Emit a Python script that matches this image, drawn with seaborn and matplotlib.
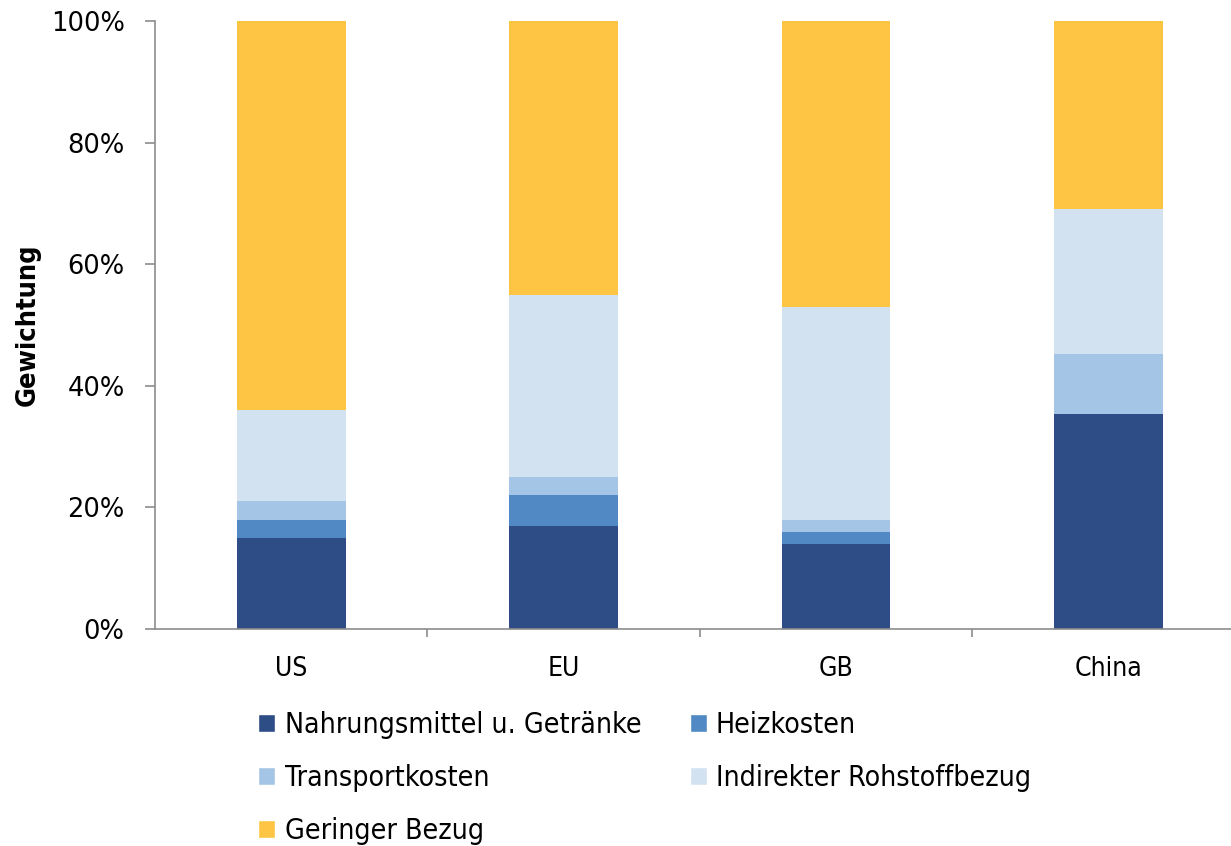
import numpy as np
import pandas as pd
import matplotlib
matplotlib.use("Agg")
import matplotlib.pyplot as plt
from matplotlib.patches import Patch
from matplotlib.ticker import FuncFormatter
import seaborn as sns

# values (percent)
regions = ["US", "EU", "GB", "China"]
nahrung = [15.0, 17.0, 14.0, 35.4]
heiz = [3.0, 5.0, 2.0, 0.0]
transport = [3.0, 3.0, 2.0, 9.8]
indirekt = [15.0, 30.0, 35.0, 23.9]
gering = [64.0, 45.0, 47.0, 30.9]

labels = ["Nahrungsmittel u. Getränke", "Heizkosten", "Transportkosten",
          "Indirekter Rohstoffbezug", "Geringer Bezug"]
colors = ["#2E4D87", "#5089C4", "#A5C5E6", "#D3E2F1", "#FDC543"]

sns.set_style("white")
plt.rcParams["font.family"] = ["DejaVu Sans"]
plt.rcParams["text.color"] = "black"
plt.rcParams["xtick.color"] = "black"
plt.rcParams["ytick.color"] = "black"
plt.rcParams["axes.labelcolor"] = "black"

df = pd.DataFrame({"region": regions, labels[0]: nahrung, labels[1]: heiz,
                   labels[2]: transport, labels[3]: indirekt, labels[4]: gering})
cum = df[labels].cumsum(axis=1)

fig = plt.figure(figsize=(12.31, 8.46), dpi=100)
ax = fig.add_axes([0.126, 0.2565, 0.885, 0.7185])

# stacked: draw cumulative totals from the top down
for lab, col in reversed(list(zip(labels, colors))):
    sns.barplot(x=df["region"], y=cum[lab], color=col, width=0.4,
                saturation=1, ax=ax, linewidth=0, zorder=2)

ax.set_xlim(-0.5, 3.5)
ax.set_ylim(0, 100)
ax.set_yticks([0, 20, 40, 60, 80, 100])
ax.yaxis.set_major_formatter(FuncFormatter(lambda v, p: f"{v:.0f}%"))
ax.set_xlabel("")
ax.set_ylabel("Gewichtung", fontsize=19.5, fontweight="bold", labelpad=7,
              fontstretch="condensed")

for s in ["top", "right"]:
    ax.spines[s].set_visible(False)
for s in ["left", "bottom"]:
    ax.spines[s].set_color("#8c8c8c")
    ax.spines[s].set_linewidth(1.2)

ax.tick_params(axis="y", which="major", left=True, length=7, width=1.2,
               color="#8c8c8c", pad=15, labelsize=18.5)
ax.tick_params(axis="x", which="major", bottom=False, pad=16, labelsize=19)
for t in ax.get_xticklabels():
    t.set_fontstretch("condensed")
ax.set_xticks([0.5, 1.5, 2.5], minor=True)
ax.tick_params(axis="x", which="minor", bottom=True, length=6, width=1.2,
               color="#8c8c8c")

handles = [Patch(facecolor=c, label=l) for l, c in zip(labels, colors)]
order = [0, 2, 4, 1, 3]
leg = fig.legend([handles[i] for i in order], [labels[i] for i in order],
                 ncol=2, loc="upper left", bbox_to_anchor=(0.2007, 0.1726),
                 frameon=False, handlelength=0.6, handleheight=0.6,
                 handletextpad=0.33, columnspacing=1.7, labelspacing=0.88,
                 borderaxespad=0,
                 prop={"family": "DejaVu Sans", "stretch": "condensed", "size": 20.4})

fig.savefig("out.png", dpi=100)
